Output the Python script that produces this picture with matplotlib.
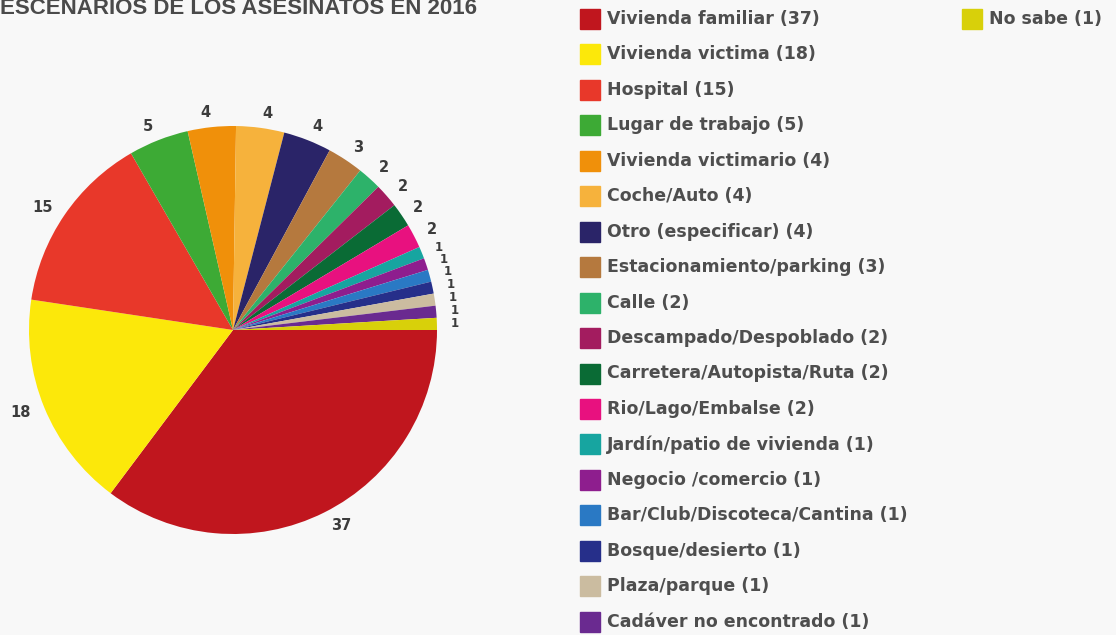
import matplotlib.pyplot as plt
from matplotlib.patches import Rectangle

# escenarios de los asesinatos 2016
lugares = ["Vivienda familiar", "Vivienda victima", "Hospital", "Lugar de trabajo",
           "Vivienda victimario", "Coche/Auto", "Otro (especificar)",
           "Estacionamiento/parking", "Calle", "Descampado/Despoblado",
           "Carretera/Autopista/Ruta", "Rio/Lago/Embalse", "Jardín/patio de vivienda",
           "Negocio /comercio", "Bar/Club/Discoteca/Cantina", "Bosque/desierto",
           "Plaza/parque", "Cadáver no encontrado", "No sabe"]
casos = [37, 18, 15, 5, 4, 4, 4, 3, 2, 2, 2, 2, 1, 1, 1, 1, 1, 1, 1]
colores = ["#c0161e", "#fce80a", "#e8382a", "#3daa35", "#f0900a", "#f6b23c",
           "#2a2468", "#b5793e", "#2db26a", "#a31c5f", "#0a6b35", "#e8117f",
           "#17a5a0", "#8e1e8e", "#2a79c4", "#262f8a", "#cbbca0", "#6a2a90",
           "#d8d00a"]

bg = "#f8f8f8"
fig = plt.figure(figsize=(11.16, 6.35), dpi=100, facecolor=bg)

# pie: centre (233, 330) px, radius 204 px
W, H = 1116, 635
cx, cy, r = 233, 330, 204
ax = fig.add_axes([(cx - r) / W, (H - cy - r) / H, 2 * r / W, 2 * r / H])
ax.set_facecolor(bg)
wedges, texts = ax.pie(casos, colors=colores, startangle=0, counterclock=False,
                       labels=[str(c) for c in casos], labeldistance=1.07,
                       textprops=dict(fontsize=10.5, color="#3c3c3c", fontweight="bold",
                                      family=["Liberation Sans Narrow", "DejaVu Sans"]))
# the single-case slices are thin, keep their labels small so they stack
for t, c in zip(texts, casos):
    if c == 1:
        t.set_fontsize(8.5)
ax.set_xlim(-1, 1)
ax.set_ylim(-1, 1)
ax.set_aspect("equal")
ax.axis("off")

fig.text(0, 1 - 14 / H, "ESCENARIOS DE LOS ASESINATOS EN 2016", family="Liberation Sans",
         fontsize=16, fontweight="bold", color="#4a4a4a", va="baseline")

# legend: first column of 18, the last entry in a second column
def entrada(x, y, color, texto):
    fig.patches.append(Rectangle((x / W, 1 - (y + 10) / H), 20 / W, 20 / H,
                                 transform=fig.transFigure, color=color))
    fig.text((x + 27) / W, 1 - y / H, texto, fontsize=12.5, color="#4e4e4e",
             va="center", fontweight="bold")

for i in range(18):
    entrada(580, 19 + i * 35.45, colores[i], f"{lugares[i]} ({casos[i]})")
entrada(962, 19, colores[18], f"{lugares[18]} ({casos[18]})")

fig.savefig("out.png", dpi=100, facecolor=bg)
